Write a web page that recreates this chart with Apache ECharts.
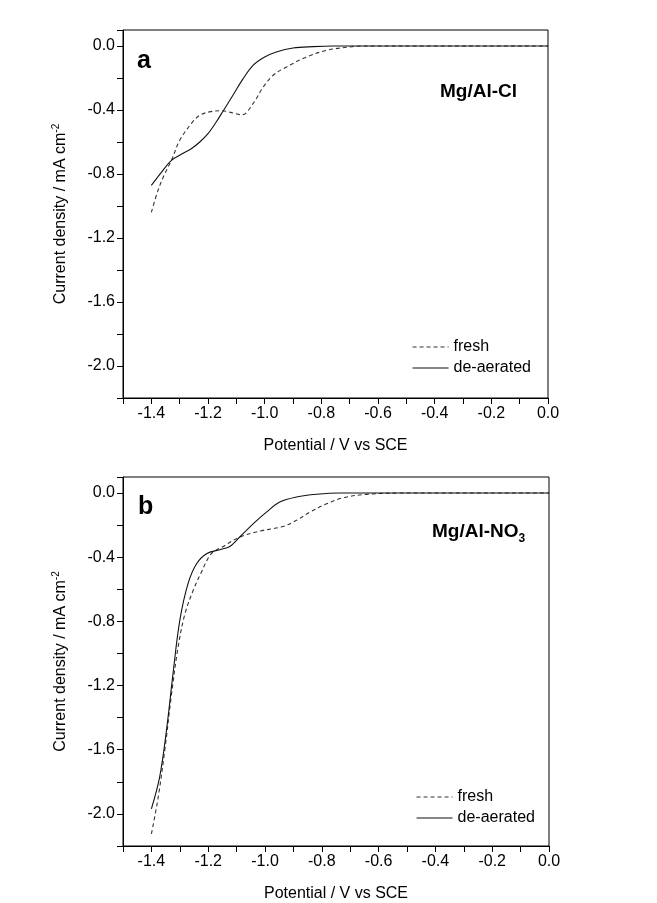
<!DOCTYPE html>
<html>
<head>
  <meta charset="UTF-8">
  <title>Mg/Al polarisation curves</title>
  <style>
    html, body { margin: 0; padding: 0; width: 100%; height: 100%; background: #fff; }
    #main { width: 657px; height: 903px; }
  </style>
  <script src="https://cdn.jsdelivr.net/npm/echarts@6/dist/echarts.min.js"></script>
</head>
<body>
<div id="main"></div>
<script>
  // panel a: Mg/Al-Cl  [potential V, current mA cm-2]
  var clFresh = [
    [-1.4, -1.04], [-1.376, -0.90], [-1.353, -0.80], [-1.329, -0.715], [-1.30, -0.59],
    [-1.259, -0.485], [-1.229, -0.433], [-1.19, -0.41], [-1.15, -0.405], [-1.12, -0.415],
    [-1.08, -0.43], [-1.041, -0.36], [-1.005, -0.256], [-0.97, -0.183], [-0.923, -0.131],
    [-0.852, -0.069], [-0.781, -0.027], [-0.70, -0.006], [-0.65, 0], [0, 0]
  ];
  var clDeaerated = [
    [-1.4, -0.871], [-1.359, -0.777], [-1.329, -0.715], [-1.294, -0.677], [-1.259, -0.642],
    [-1.229, -0.60], [-1.20, -0.548], [-1.171, -0.475], [-1.147, -0.408], [-1.112, -0.308],
    [-1.076, -0.204], [-1.041, -0.121], [-1.0, -0.069], [-0.959, -0.0375], [-0.90, -0.0125],
    [-0.829, -0.004], [-0.76, 0], [0, 0]
  ];

  // panel b: Mg/Al-NO3
  var no3Fresh = [
    [-1.4, -2.125], [-1.376, -1.896], [-1.353, -1.605], [-1.329, -1.252], [-1.306, -0.96],
    [-1.282, -0.753], [-1.253, -0.607], [-1.224, -0.493], [-1.189, -0.378], [-1.147, -0.333],
    [-1.089, -0.274], [-1.018, -0.237], [-0.936, -0.208], [-0.889, -0.170], [-0.842, -0.119],
    [-0.783, -0.067], [-0.724, -0.029], [-0.642, -0.008], [-0.525, 0], [0, 0]
  ];
  var no3Deaerated = [
    [-1.4, -1.969], [-1.371, -1.771], [-1.347, -1.48], [-1.324, -1.127], [-1.30, -0.794],
    [-1.271, -0.565], [-1.241, -0.441], [-1.206, -0.378], [-1.159, -0.353], [-1.124, -0.333],
    [-1.089, -0.274], [-1.041, -0.191], [-0.995, -0.119], [-0.948, -0.056], [-0.889, -0.025],
    [-0.818, -0.008], [-0.737, 0], [0, 0]
  ];

  var seriesNames = ['fresh', 'de-aerated'];
  var xRange = [-1.5, 0];
  var yRange = [-2.2, 0.1];

  var FONT = 'Liberation Sans, Arial, sans-serif';

  function xAxisFor(idx) {
    return {
      type: 'value', gridIndex: idx, min: xRange[0], max: xRange[1], interval: 0.1,
      name: 'Potential / V vs SCE', nameLocation: 'middle', nameGap: 40,
      nameTextStyle: { fontFamily: FONT, fontSize: 16, color: '#000' },
      axisLine: { onZero: false, lineStyle: { color: '#000', width: 1 } },
      axisTick: { inside: false, length: 6, lineStyle: { color: '#000' } },
      axisLabel: {
        fontFamily: FONT, fontSize: 16, color: '#000', margin: 8,
        formatter: function (v) {
          var k = Math.round(v * 10);
          return (k % 2 === 0) ? (k === 0 ? '0.0' : (k / 10).toFixed(1)) : '';
        }
      },
      splitLine: { show: false }
    };
  }

  function yAxisFor(idx) {
    return {
      type: 'value', gridIndex: idx, min: yRange[0], max: yRange[1], interval: 0.2,
      name: '{n|Current density / mA cm}{s|-2}', nameLocation: 'middle', nameGap: 52,
      nameTextStyle: {
        fontFamily: FONT, fontSize: 16, color: '#000',
        rich: {
          n: { fontFamily: FONT, fontSize: 16, color: '#000', lineHeight: 20 },
          s: { fontFamily: FONT, fontSize: 10, color: '#000', lineHeight: 10, verticalAlign: 'top' }
        }
      },
      axisLine: { onZero: false, lineStyle: { color: '#000', width: 1 } },
      axisTick: { inside: false, length: 6, lineStyle: { color: '#000' } },
      axisLabel: {
        fontFamily: FONT, fontSize: 16, color: '#000', margin: 8,
        formatter: function (v) {
          var k = Math.round(v * 10);
          if (k % 4 !== 0 || k > 0) return '';
          return k === 0 ? '0.0' : (k / 10).toFixed(1);
        }
      },
      splitLine: { show: false }
    };
  }

  function line(name, data, idx, dashed) {
    return {
      name: name, type: 'line', xAxisIndex: idx, yAxisIndex: idx,
      data: data, smooth: 0.35, showSymbol: false, symbol: 'none',
      lineStyle: { color: dashed ? '#333' : '#111', width: 1.1, type: dashed ? [4, 3] : 'solid' },
      itemStyle: { color: dashed ? '#333' : '#111' },
      emphasis: { disabled: true },
      animation: false
    };
  }

  function legendAt(left, top) {
    return {
      data: seriesNames, orient: 'vertical', left: left, top: top,
      itemWidth: 36, itemHeight: 14, itemGap: 5,
      itemStyle: { opacity: 0 },
      lineStyle: { width: 1.1 },
      textStyle: { fontFamily: FONT, fontSize: 16, color: '#000' },
      selectedMode: false
    };
  }

  var chart = echarts.init(document.getElementById('main'));

  var option = {
    backgroundColor: '#fff',
    animation: false,
    grid: [
      { left: 123, top: 30, width: 425, height: 368, show: true, borderColor: '#000', borderWidth: 1, backgroundColor: 'transparent' },
      { left: 123, top: 477, width: 426, height: 369, show: true, borderColor: '#000', borderWidth: 1, backgroundColor: 'transparent' }
    ],
    xAxis: [xAxisFor(0), xAxisFor(1)],
    yAxis: [yAxisFor(0), yAxisFor(1)],
    legend: [legendAt(407, 334), legendAt(411, 784)],
    graphic: [
      { type: 'text', left: 137, top: 49, style: { text: 'a', font: 'bold 25px ' + FONT, fill: '#000' } },
      { type: 'text', left: 440, top: 82, style: { text: 'Mg/Al-Cl', font: 'bold 19px ' + FONT, fill: '#000' } },
      { type: 'text', left: 138, top: 495, style: { text: 'b', font: 'bold 25px ' + FONT, fill: '#000' } },
      {
        type: 'text', left: 432, top: 522,
        style: {
          text: '{m|Mg/Al-NO}{s|3}',
          rich: {
            m: { font: 'bold 19px ' + FONT, fill: '#000', lineHeight: 26 },
            s: { font: 'bold 12px ' + FONT, fill: '#000', lineHeight: 12, verticalAlign: 'bottom' }
          }
        }
      }
    ],
    series: [
      line('fresh', clFresh, 0, true),
      line('de-aerated', clDeaerated, 0, false),
      line('fresh', no3Fresh, 1, true),
      line('de-aerated', no3Deaerated, 1, false)
    ]
  };

  chart.setOption(option);
</script>
</body>
</html>
